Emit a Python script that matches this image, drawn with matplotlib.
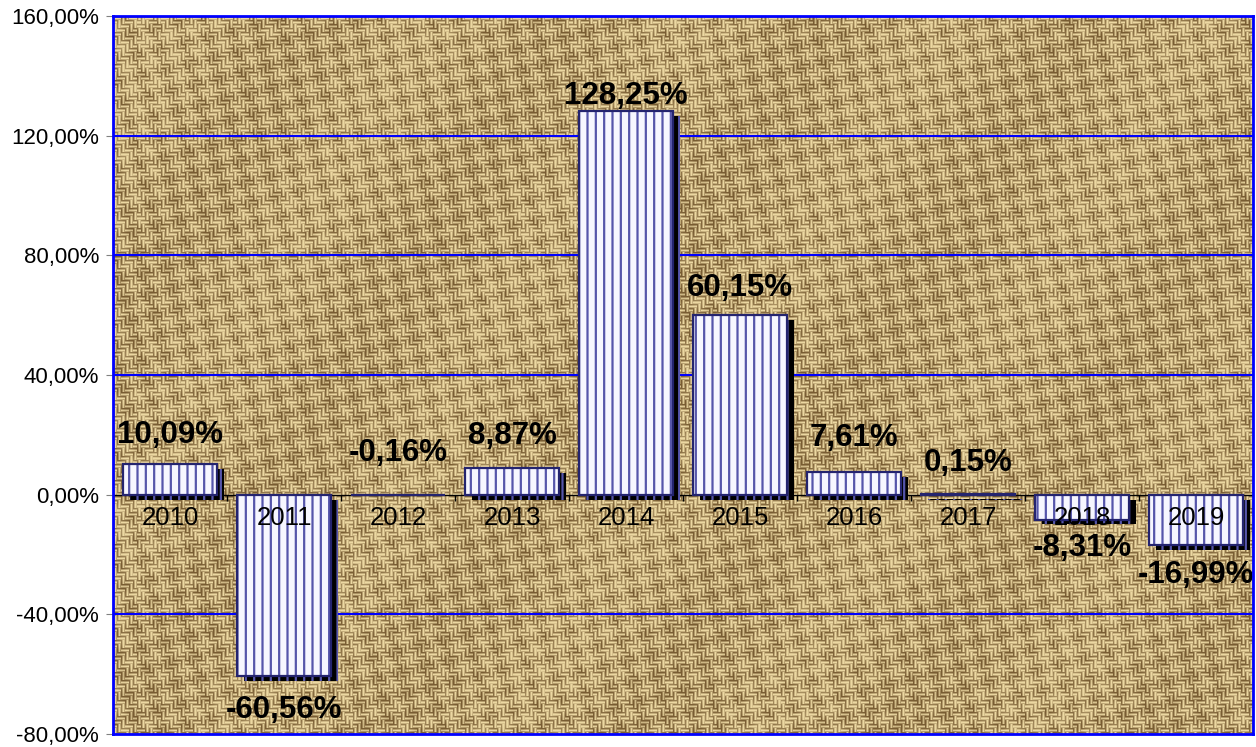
# Rentabilidad anual 2010-2019 (estilo Excel, fondo de arpillera)

import numpy as np
import matplotlib.pyplot as plt
import matplotlib.patheffects as pe

# Datos

anios = ["2010", "2011", "2012", "2013", "2014", "2015", "2016", "2017", "2018", "2019"]
rentabilidad = [10.09, -60.56, -0.16, 8.87, 128.25, 60.15, 7.61, 0.15, -8.31, -16.99]
ticks_y = [-80, -40, 0, 40, 80, 120, 160]

# desplazamiento vertical de cada etiqueta (en pixeles, a la manera de Excel)
desp_etiquetas = [29, -34, 42, 32, 15, 27, 34, 31, -28, -30]


def fmt(v):
    return f"{v:.2f}".replace(".", ",") + "%"


plt.rcParams["font.family"] = ["Liberation Sans", "DejaVu Sans"]
plt.rcParams["hatch.linewidth"] = 1.6

fig = plt.figure(figsize=(12.56, 7.47), dpi=100)
ax = fig.add_axes([113 / 1256, 13 / 747, 1140 / 1256, 718 / 747])

# Fondo: textura de tejido tipo sarga (patron determinista)
H, W = 718, 1140
yy, xx = np.mgrid[0:H, 0:W]
cx, cy = xx // 4, yy // 4
sentido = np.where((cx // 6) % 2 == 0, cy, -cy)
horizontal = ((cx + sentido) % 4) < 2
hilo_h = 0.5 - 0.5 * np.cos(2 * np.pi * (yy % 4) / 4)
hilo_v = 0.5 - 0.5 * np.cos(2 * np.pi * (xx % 4) / 4)
v = np.where(horizontal, hilo_h, hilo_v)
mancha = (0.22 * np.sin(xx / 6.3 + yy / 9.1) * np.sin(yy / 5.7 - xx / 11.3)
          + 0.06 * np.sin(xx / 41 + yy / 67))
v = np.clip(0.15 + 0.85 * v + mancha, 0, 1)
oscuro = np.array([120, 92, 50]) / 255
claro = np.array([236, 216, 162]) / 255
textura = oscuro + v[..., None] * (claro - oscuro)
ax.imshow(textura, extent=[0, 1, 0, 1], transform=ax.transAxes, aspect="auto",
          interpolation="nearest", zorder=0)

x = np.arange(len(anios))
ax.set_xlim(-0.5, len(anios) - 0.5)
ax.set_ylim(-80, 160)

# Lineas de cuadricula azules
for t in ticks_y[1:-1]:
    if t != 0:
        ax.axhline(t, color="#0000ff", lw=1.5, zorder=1)

# Barras con rayas verticales y sombra
barras = ax.bar(x, rentabilidad, width=0.83, color="#f6f6ff", edgecolor="#5555aa",
                hatch="||", linewidth=0, zorder=3)
for b in barras:
    b.set_path_effects([pe.SimplePatchShadow(offset=(5, -3.5), shadow_rgbFace="black", alpha=1.0),
                        pe.Normal()])
ax.bar(x, rentabilidad, width=0.83, fill=False, edgecolor="#24246e", linewidth=1.6, zorder=4)

# Eje cero con marcas
ax.axhline(0, color="black", lw=1, zorder=2)
ax.vlines(x[:-1] + 0.5, -2, 0, color="black", lw=1, zorder=2)

# Etiquetas de categoria junto al eje cero
for xi, a in zip(x, anios):
    ax.annotate(a, (xi, 0), xytext=(0, -17), textcoords="offset points",
                ha="center", va="center", fontsize=18.5, color="black", zorder=6)

# Etiquetas de datos
for xi, val, d in zip(x, rentabilidad, desp_etiquetas):
    ax.annotate(fmt(val), (xi, val), xytext=(0, d / 1.389), textcoords="offset points",
                ha="center", va="center", fontsize=22.5, fontweight="bold", color="black", zorder=7)

ax.set_yticks(ticks_y)
ax.set_yticklabels([fmt(t) for t in ticks_y], fontsize=16)
ax.set_xticks([])
ax.tick_params(axis="y", length=5, color="gray", pad=5)

for s in ax.spines.values():
    s.set_color("#0000ff")
    s.set_linewidth(2)
    s.set_zorder(8)

fig.savefig("out.png", dpi=100)
